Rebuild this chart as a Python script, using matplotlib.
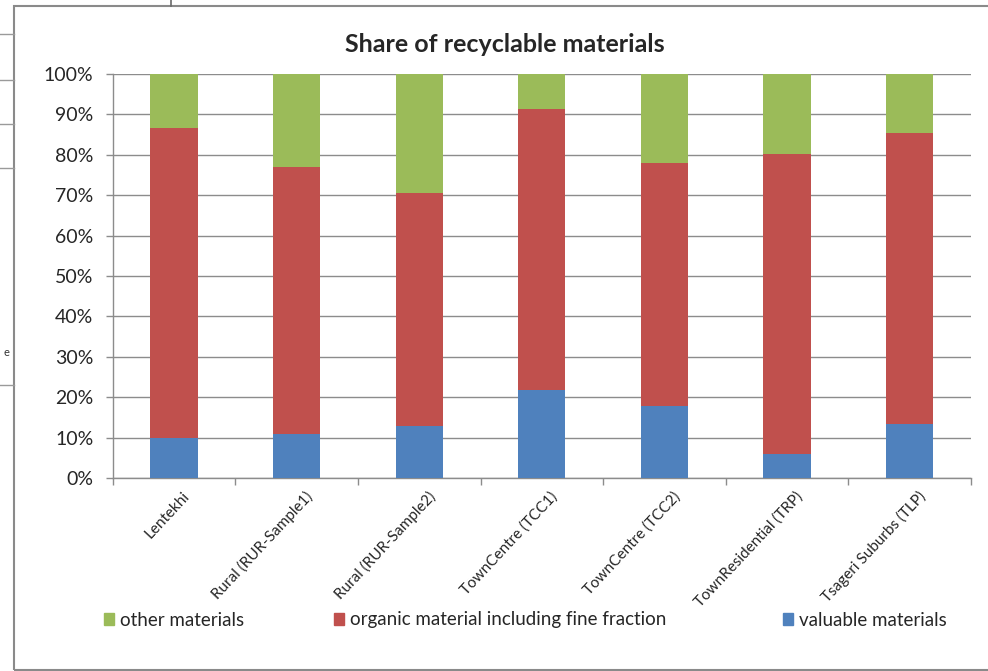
import matplotlib
matplotlib.use("Agg")
import matplotlib.pyplot as plt
import numpy as np
from matplotlib.lines import Line2D
from matplotlib.patches import Rectangle

plt.rcParams['font.family'] = ['Lato', 'DejaVu Sans']

categories = ["Lentekhi", "Rural (RUR-Sample1)", "Rural (RUR-Sample2)",
              "TownCentre (TCC1)", "TownCentre (TCC2)",
              "TownResidential (TRP)", "Tsageri Suburbs (TLP)"]
valuable = [9.8, 10.8, 12.9, 21.8, 17.8, 5.9, 13.3]
organic = [76.8, 66.3, 57.7, 69.5, 60.1, 74.3, 72.0]
other = [13.4, 22.9, 29.4, 8.7, 22.1, 19.8, 14.7]
yticks = [0, 10, 20, 30, 40, 50, 60, 70, 80, 90, 100]
series_names = ["other materials", "organic material including fine fraction",
                "valuable materials"]

c_valuable = "#4F81BD"
c_organic = "#C0504D"
c_other = "#9BBB59"
grid_col = "#8C8C8C"
text_col = "#262626"

W, H = 988, 671
fig = plt.figure(figsize=(W / 100, H / 100), dpi=100)
ax = fig.add_axes([112.7 / W, 1 - 478 / H, (971 - 112.7) / W, (478 - 74) / H])

x = np.arange(len(categories))
width = 0.385
v = np.array(valuable)
o = np.array(organic)
t = np.array(other)
ax.bar(x, v, width, color=c_valuable, zorder=3)
ax.bar(x, o, width, bottom=v, color=c_organic, zorder=3)
ax.bar(x, t, width, bottom=v + o, color=c_other, zorder=3)

ax.set_xlim(-0.5, len(categories) - 0.5)
ax.set_ylim(0, 100)
ax.set_yticks(yticks)
ax.set_yticklabels([f"{y}%" for y in yticks], fontsize=14, color=text_col)
ax.yaxis.grid(True, color=grid_col, linewidth=1.0, zorder=0)
ax.tick_params(axis="y", length=5, color=grid_col, width=1.0, pad=9)

# category ticks sit between the bars
ax.set_xticks(np.arange(len(categories) + 1) - 0.5)
ax.set_xticklabels([])
ax.tick_params(axis="x", length=5, color=grid_col, width=1.0)
for i, name in enumerate(categories):
    ax.annotate(name, xy=(i, 0), xycoords="data", xytext=(6, -8),
                textcoords="offset points", rotation=47, ha="right",
                va="top", rotation_mode="anchor", fontsize=11,
                color=text_col)

for s in ["top", "right"]:
    ax.spines[s].set_visible(False)
for s in ["left", "bottom"]:
    ax.spines[s].set_color(grid_col)
    ax.spines[s].set_linewidth(1.0)

fig.text(505 / W, 1 - 45 / H, "Share of recyclable materials",
         ha="center", va="center", fontsize=18, fontweight="bold",
         color=text_col)

# legend entries, one per series, laid out along the bottom
colors = [c_other, c_organic, c_valuable]
legend_x = [104, 334, 783]
for name, col, lx in zip(series_names, colors, legend_x):
    fig.legend([Rectangle((0, 0), 1, 1, color=col)], [name], loc="center left",
               bbox_to_anchor=(lx / W, 1 - 620 / H), frameon=False,
               fontsize=13.5, handlelength=0.55, handleheight=0.55,
               handletextpad=0.3, borderpad=0, borderaxespad=0,
               labelcolor=text_col)

# chart area border
fig.add_artist(Rectangle((14 / W, 1 - 670 / H), (W - 14 + 5) / W, (670 - 6) / H,
                         transform=fig.transFigure, fill=False,
                         edgecolor="#8A8A8A", linewidth=1.5))

# surrounding page rules
for yy in [34, 80, 124, 168, 385]:
    fig.add_artist(Line2D([0, 14 / W], [1 - yy / H] * 2, transform=fig.transFigure,
                          color="#9A9A9A", linewidth=1.0))
fig.add_artist(Line2D([171 / W] * 2, [1, 1 - 6 / H], transform=fig.transFigure,
                      color="#6A6A6A", linewidth=1.2))
fig.text(3 / W, 1 - 353 / H, "e", ha="left", va="center", fontsize=8,
         color="#333333")

fig.savefig("out.png", dpi=100, facecolor="white")
